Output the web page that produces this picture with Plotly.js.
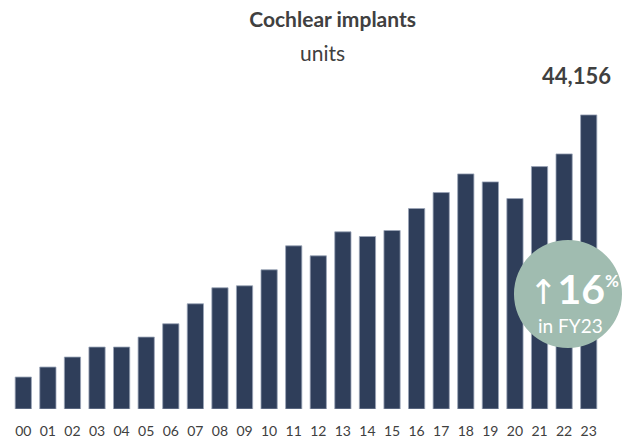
<!DOCTYPE html>
<html>
<head>
<meta charset="utf-8">
<script src="https://cdn.plot.ly/plotly-3.0.1.min.js"></script>
<style>
  html, body { margin: 0; padding: 0; background: #fff; }
  #chart { width: 630px; height: 442px; }
</style>
</head>
<body>
<div id="chart"></div>
<script>
const years = ['00', '01', '02', '03', '04', '05', '06', '07', '08', '09', '10', '11',
               '12', '13', '14', '15', '16', '17', '18', '19', '20', '21', '22', '23'];
const units = [4800, 6300, 7800, 9300, 9300, 10800, 12800, 15800, 18200, 18500, 20900, 24500,
               23000, 26600, 25900, 26800, 30100, 32500, 35300, 34100, 31600, 36400, 38300, 44156];
const growthPct = 16;
const growthLabel = 'in FY23';

const barColor = '#2f3e5a';
const circleColor = '#a0bcb0';
const font = 'Lato, "Open Sans", sans-serif';

const last = years.length - 1;

const trace = {
    x: years,
    y: units,
    type: 'bar',
    width: 0.66,
    marker: {color: barColor, line: {color: '#9aa4b8', width: 0.8}},
    hoverinfo: 'x+y'
};

const layout = {
    width: 630,
    height: 442,
    margin: {l: 11, r: 29, t: 76, b: 33},
    paper_bgcolor: '#fff',
    plot_bgcolor: '#fff',
    showlegend: false,
    font: {family: font, color: '#404040'},
    title: {
        text: '<b>Cochlear implants</b>',
        font: {family: font, size: 21, color: '#404040'},
        x: 0.528,
        xanchor: 'center',
        y: 0.955,
        yanchor: 'middle'
    },
    xaxis: {
        type: 'category',
        range: [-0.5, years.length - 0.5],
        showgrid: false,
        zeroline: false,
        showline: false,
        ticks: '',
        ticklabelstandoff: 12,
        tickfont: {family: font, size: 14, color: '#404040'}
    },
    yaxis: {
        range: [0, 50000],
        visible: false,
        showgrid: false,
        zeroline: false
    },
    shapes: [{
        type: 'circle',
        xref: 'paper', yref: 'paper',
        x0: 0.8525, x1: 1.0356,
        y0: 0.1832, y1: 0.5075,
        fillcolor: circleColor,
        line: {width: 0},
        layer: 'above'
    }],
    annotations: [
        {
            xref: 'paper', yref: 'paper',
            x: 0.528, y: 1.072,
            xanchor: 'center', yanchor: 'middle',
            text: 'units',
            showarrow: false,
            font: {family: font, size: 21, color: '#404040'}
        },
        {
            x: years[last],
            y: units[last],
            xref: 'x', yref: 'y',
            text: '<b>' + units[last].toLocaleString('en-US') + '</b>',
            showarrow: false,
            xanchor: 'center',
            yanchor: 'bottom',
            xshift: -12,
            yshift: 24,
            font: {family: font, size: 22, color: '#404040'}
        },
        {
            xref: 'paper', yref: 'paper',
            x: 0.955, y: 0.362,
            xanchor: 'center', yanchor: 'middle',
            text: '<span style="font-family:\'DejaVu Sans\';font-size:34px">↑</span><b>' + growthPct +
                  '<sup><span style="font-size:17px">%</span></sup></b>',
            showarrow: false,
            font: {family: font, size: 41, color: '#ffffff'}
        },
        {
            xref: 'paper', yref: 'paper',
            x: 0.949, y: 0.25,
            xanchor: 'center', yanchor: 'middle',
            text: growthLabel,
            showarrow: false,
            font: {family: font, size: 19, color: '#ffffff'}
        }
    ]
};

Plotly.newPlot('chart', [trace], layout, {displayModeBar: false, responsive: false});
</script>
</body>
</html>
